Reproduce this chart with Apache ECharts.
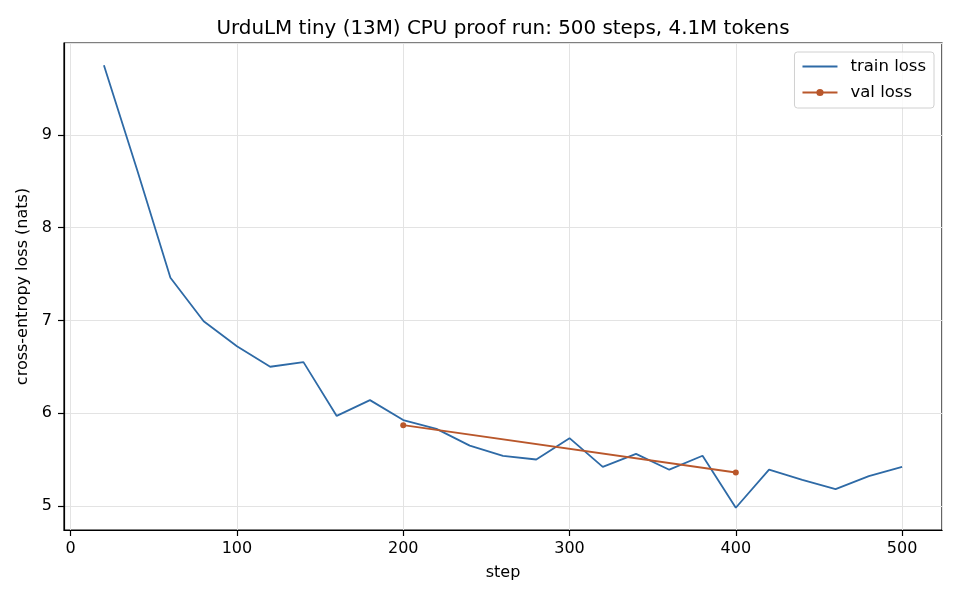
<!DOCTYPE html>
<html lang="en">
<head>
    <meta charset="UTF-8">
    <title>UrduLM tiny loss</title>
    <style>
        html, body { margin: 0; padding: 0; background: #fff; }
    </style>
</head>
<body>
<div id="main" style="width:960px;height:600px;"></div>

<script src="https://cdn.jsdelivr.net/npm/echarts@6/dist/echarts.min.js"></script>
<script>
    // 训练步数和损失
    var trainSteps = [20, 40, 60, 80, 100, 120, 140, 160, 180, 200, 220, 240, 260,
        280, 300, 320, 340, 360, 380, 400, 420, 440, 460, 480, 500];
    var trainLoss = [9.75, 8.62, 7.46, 6.99, 6.72, 6.50, 6.55, 5.97, 6.14, 5.925, 5.83, 5.65, 5.54,
        5.50, 5.73, 5.42, 5.56, 5.39, 5.54, 4.98, 5.39, 5.28, 5.18, 5.32, 5.42];
    var valSteps = [200, 400];
    var valLoss = [5.87, 5.36];

    var font = 'DejaVu Sans';
    var myChart = echarts.init(document.getElementById('main'));

    function pairs(xs, ys) {
        return xs.map(function (x, i) { return [x, ys[i]]; });
    }

    var axisCommon = {
        type: 'value',
        nameLocation: 'middle',
        nameTextStyle: { fontFamily: font, fontSize: 16, color: '#000' },
        axisLine: { show: true, onZero: false, lineStyle: { color: '#000', width: 1.2 } },
        axisTick: { show: true, length: 6, lineStyle: { color: '#000', width: 1.2 } },
        splitLine: { show: true, lineStyle: { color: '#e3e3e3' } }
    };

    myChart.setOption({
        animation: false,
        textStyle: { fontFamily: font },
        title: {
            text: 'UrduLM tiny (13M) CPU proof run: 500 steps, 4.1M tokens',
            left: 498,
            textAlign: 'center',
            top: 14,
            textStyle: { fontFamily: font, fontSize: 19.9, fontWeight: 'normal', color: '#000' }
        },
        legend: {
            orient: 'vertical',
            right: 26,
            top: 52,
            padding: [6, 8, 7, 7],
            itemWidth: 35,
            itemHeight: 9,
            itemGap: 9,
            icon: 'inherit',
            borderColor: '#d0d0d0',
            borderWidth: 1,
            borderRadius: 3,
            backgroundColor: 'rgba(255,255,255,0.8)',
            textStyle: { fontFamily: font, fontSize: 16.5, color: '#000', padding: [0, 0, 0, 8] },
            data: [
                { name: 'train loss', itemStyle: { opacity: 0 } },
                { name: 'val loss' }
            ]
        },
        grid: {
            left: 64, right: 18, top: 43, bottom: 70,
            show: true,
            borderColor: '#000',
            borderWidth: 1.2
        },
        xAxis: Object.assign({}, axisCommon, {
            min: -4,
            max: 524,
            name: 'step',
            nameGap: 35,
            axisLabel: {
                margin: 11, fontSize: 16, color: '#000', fontFamily: font,
                showMinLabel: false, showMaxLabel: false
            }
        }),
        yAxis: Object.assign({}, axisCommon, {
            min: 4.74,
            max: 9.99,
            name: 'cross-entropy loss (nats)',
            nameGap: 24,
            axisLabel: {
                margin: 12, fontSize: 16, color: '#000', fontFamily: font,
                showMinLabel: false, showMaxLabel: false
            }
        }),
        series: [{
            name: 'train loss',
            type: 'line',
            data: pairs(trainSteps, trainLoss),
            symbol: 'none',
            lineStyle: { color: '#2e6aa6', width: 1.8 },
            itemStyle: { color: '#2e6aa6' }
        }, {
            name: 'val loss',
            type: 'line',
            data: pairs(valSteps, valLoss),
            symbol: 'circle',
            symbolSize: 6,
            lineStyle: { color: '#b9572b', width: 1.8 },
            itemStyle: { color: '#b9572b' }
        }]
    });
</script>
</body>
</html>
